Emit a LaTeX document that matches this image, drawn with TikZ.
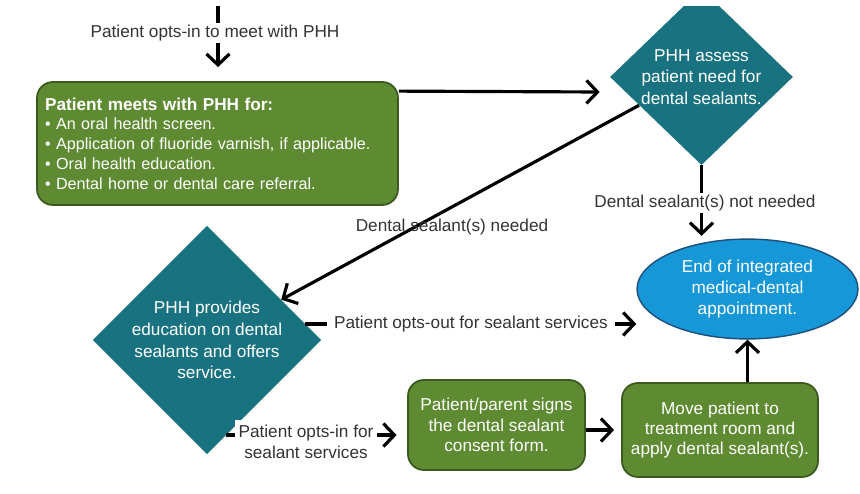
\documentclass[tikz,border=0pt]{standalone}
\usepackage{fontspec}
\setmainfont{Liberation Sans}
\usetikzlibrary{shapes.geometric,arrows.meta,calc}
\definecolor{boxgreen}{HTML}{5E8B32}
\definecolor{boxedge}{HTML}{3B5A1F}
\definecolor{diateal}{HTML}{18727F}
\definecolor{endblue}{HTML}{1597D8}
\definecolor{endedge}{HTML}{1E4F7A}
\tikzset{
  lbl/.style={font=\fontsize{9.8}{11.6}\selectfont, text=black!80, inner sep=1pt},
  greenbox/.style={rectangle, rounded corners=9pt, draw=boxedge, line width=1pt,
    fill=boxgreen, text=white, align=center, font=\fontsize{9.8}{11.6}\selectfont},
  decide/.style={diamond, fill=diateal, text=white, align=center, inner sep=0pt,
    font=\fontsize{9.8}{12.4}\selectfont},
  wire/.style={line width=1.8pt},
  flow/.style={line width=1.8pt, -{Straight Barb[length=2.2mm,width=4.6mm]}}
}
\begin{document}
\begin{tikzpicture}[x=0.02cm,y=-0.02cm]
  \useasboundingbox (0,0) rectangle (860,494);
  \clip (0,6) rectangle (860,494);
  % nodes
  \coordinate (topend) at (218,0);
  \node[lbl] (optmeet) at (215,33) {Patient opts-in to meet with PHH};
  \node[greenbox, minimum width=7.22cm, minimum height=2.46cm, text width=6.9cm, align=left,
    font=\fontsize{9.2}{11.2}\selectfont]
    (meet) at (217.5,143.5) {{\fontsize{9.8}{11.2}\selectfont\textbf{Patient meets with PHH for:}}\\
      • An oral health screen.\\
      • Application of fluoride varnish, if applicable.\\
      • Oral health education.\\
      • Dental home or dental care referral.};
  \node[decide, minimum width=3.66cm, minimum height=3.44cm] (assess) at (701.5,77)
    {PHH assess\\patient need for\\dental sealants.};
  \node[lbl] (notneed) at (705,203) {Dental sealant(s) not needed};
  \node[ellipse, draw=endedge, line width=0.8pt, fill=endblue, text=white, align=center,
    minimum width=4.42cm, minimum height=1.94cm, font=\fontsize{9.8}{12.2}\selectfont]
    (endapp) at (747.5,289) {End of integrated\\medical-dental\\appointment.};
  \node[decide, minimum width=4.34cm, minimum height=4.3cm] (provide) at (207,340)
    {PHH provides\\education on dental\\sealants and offers\\service.};
  \node[greenbox, minimum width=3.54cm, minimum height=1.8cm] (consent) at (496.5,425)
    {Patient/parent signs\\the dental sealant\\consent form.};
  \node[greenbox, minimum width=3.92cm, minimum height=1.88cm] (treat) at (720,430)
    {Move patient to\\treatment room and\\apply dental sealant(s).};
  % connectors
  \draw[wire] (topend) -- (topend |- optmeet.north);
  \draw[flow, shorten >=8pt] (topend |- optmeet.south) -- (topend |- meet.north);
  \draw[flow] ([yshift=-0.2cm]meet.north east) -- ([xshift=-0.2cm,yshift=-0.3cm]assess.west);
  \draw[flow] ($(assess.west)!0.32!(assess.south)$) -- (provide);
  \node[lbl] (needed) at (452,227) {Dental sealant(s) needed};
  \draw[wire] (assess.south) -- (assess.south |- notneed.north);
  \draw[flow] (assess.south |- notneed.south) -- ([yshift=0.05cm]assess.south |- endapp.north);
  \coordinate (outstart) at ($(provide.north)!0.86!(provide.east)$);
  \draw[flow] (outstart) -- (outstart -| endapp.west)
    node[lbl, midway, fill=white, inner sep=4pt] (optout) {Patient opts-out for sealant services};
  \coordinate (instart) at ($(provide.east)!0.83!(provide.south)$);
  \draw[flow, shorten >=6pt] (instart) -- (instart -| consent.west);
  \node[lbl, fill=white, align=center, inner xsep=2pt, inner ysep=3pt] (optin) at (306,442)
    {Patient opts-in for\\sealant services};
  \draw[flow, shorten >=4pt] (consent.east |- treat) -- (treat.west);
  \draw[flow] (endapp.south |- treat.north) -- (endapp.south);
\end{tikzpicture}
\end{document}
